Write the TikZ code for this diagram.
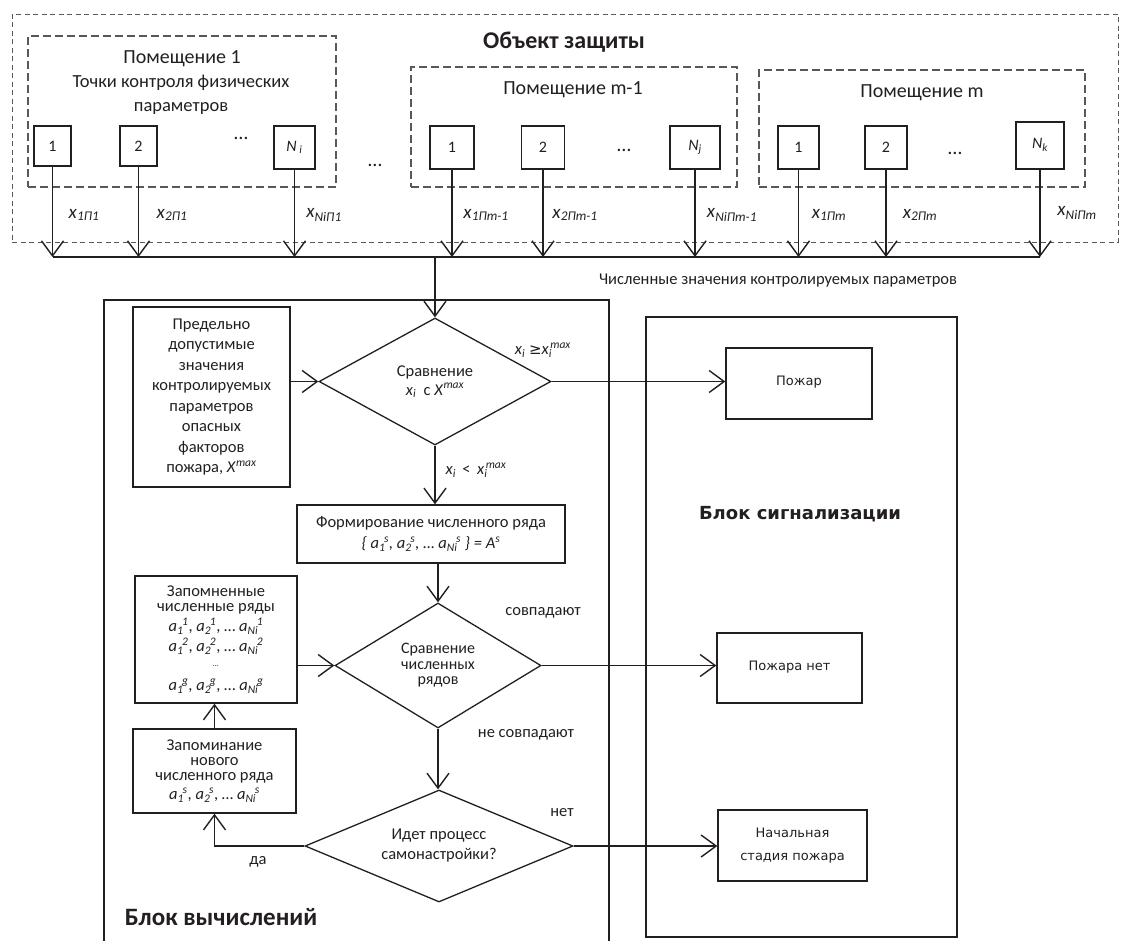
\documentclass[tikz,border=0pt]{standalone}
\usepackage{fontspec}
\setmainfont{Carlito}
\newfontfamily\dvs{DejaVu Sans}
\usetikzlibrary{arrows.meta,shapes.geometric,calc}
\newcommand\fs[2]{\fontsize{#1}{#2}\selectfont}
\newcommand\xlab[1]{\textit{x}\textsubscript{\textit{#1}}}
\newcommand\aij[3]{\textit{#1}\textsubscript{\textit{#2}}\kern-0.08em\textsuperscript{\textit{#3}}}
\definecolor{ink}{HTML}{231F20}
\tikzset{
  ln/.style={draw=ink, line width=1.4pt},
  arr/.style={ln, -{Straight Barb[length=15pt,width=22pt,line width=1.4pt]}},
  frame/.style={draw=ink, line width=1.7pt},
  box/.style={draw=ink, line width=1.4pt, rectangle, inner sep=0pt, align=center, text=ink},
  sensor/.style={draw=ink, line width=1.9pt, rectangle, inner sep=0pt, text=ink, font=\fs{16}{19}},
  room/.style={draw=ink!75, line width=1.2pt, dash pattern=on 8pt off 4pt, rectangle, inner sep=0pt},
  outerbox/.style={draw=ink!75, line width=1pt, dash pattern=on 5pt off 3.5pt, rectangle, inner sep=0pt},
  dia/.style={draw=ink, line width=1.3pt, diamond, aspect=2, inner sep=0pt, align=center, text=ink},
  lbl/.style={inner sep=0pt, text=ink, font=\fs{16.5}{20}},
  xl/.style={inner sep=0pt, text=ink, font=\fs{19}{22}},
  rtext/.style={inner sep=0pt, text=ink, font=\fs{20}{24}},
  dots/.style={inner sep=0pt, text=ink, font=\fs{20}{24}},
  sigbox/.style={box, font=\dvs\fs{13}{23}},
}
\begin{document}
\begin{tikzpicture}[x=1pt,y=-1pt]
\useasboundingbox (0,0) rectangle (1121,940);

% ---------- Object of protection ----------
\node[outerbox, minimum width=1106pt, minimum height=228pt] (obj) at (565,128) {};
\node[inner sep=0pt, text=ink, font=\bfseries\fs{24}{28}] (objt) at (564,42) {Объект защиты};

\node[room, minimum width=308pt, minimum height=151pt] (room1) at (182,111.5) {};
\node[room, minimum width=326pt, minimum height=120pt] (roomA) at (574,127) {};
\node[room, minimum width=326pt, minimum height=117pt] (roomB) at (922,128.5) {};

\node[rtext] (r1t) at (182,59) {Помещение 1};
\node[inner sep=0pt, text=ink, font=\fs{18.5}{24}, align=center] (r1s) at (181,95) {Точки контроля физических\\параметров};
\node[rtext] (rAt) at (573,90) {Помещение m-1};
\node[rtext] (rBt) at (922,93) {Помещение m};

% sensors
\node[sensor, minimum width=37pt, minimum height=40pt] (s11) at (52.5,146) {1};
\node[sensor, minimum width=37pt, minimum height=40pt] (s12) at (138.5,146) {2};
\node[sensor, minimum width=41pt, minimum height=43pt] (s1N) at (294.5,147.5) {\textit{N}\,\textsubscript{\textit{i}}};
\node[sensor, minimum width=44pt, minimum height=43pt] (sA1) at (452,147.5) {1};
\node[sensor, minimum width=43pt, minimum height=43pt] (sA2) at (543,147.5) {2};
\node[sensor, minimum width=50pt, minimum height=43pt] (sAN) at (695,147.5) {\textit{N}\textsubscript{\textit{j}}};
\node[sensor, minimum width=41pt, minimum height=43pt] (sB1) at (798.5,147.5) {1};
\node[sensor, minimum width=42pt, minimum height=43pt] (sB2) at (886,147.5) {2};
\node[sensor, minimum width=48pt, minimum height=47pt] (sBN) at (1040,145.5) {\raisebox{4pt}{\textit{N}\textsubscript{\textit{k}}}};

\node[dots] (e1) at (241,138) {…};
\node[dots] (e2) at (375,165) {…};
\node[dots] (e3) at (624,150) {…};
\node[dots] (e4) at (955,153) {…};

% signal labels
\node[xl] (l11) at (84,215) {\xlab{1П1}};
\node[xl] (l12) at (172,215) {\xlab{2П1}};
\node[xl] (l1N) at (324,215) {\xlab{NiП1}};
\node[xl] (lA1) at (486,215) {\xlab{1Пm-1}};
\node[xl] (lA2) at (575,215) {\xlab{2Пm-1}};
\node[xl] (lAN) at (732,215) {\xlab{NiПm-1}};
\node[xl] (lB1) at (829,215) {\xlab{1Пm}};
\node[xl] (lB2) at (920,215) {\xlab{2Пm}};
\node[xl] (lBN) at (1077,213) {\xlab{NiПm}};

% bus
\coordinate (busL) at (52.5,257);
\coordinate (busR) at (1040,257);
\draw[ln] (busL) -- (busR);
\foreach \s in {s11,s12,s1N,sA1,sA2,sAN,sB1,sB2,sBN}
  \draw[arr] (\s.south) -- (\s.south |- busL);
\node[lbl] (busT) at (778,281) {Численные значения контролируемых параметров};

% ---------- Computation block ----------
\coordinate (bvA) at (104,942);
\coordinate (bvB) at (104,300);
\coordinate (bvC) at (609,300);
\coordinate (bvD) at (609,942);
\draw[frame] (bvA) -- (bvB) -- (bvC) -- (bvD);
\node[inner sep=0pt, text=ink, font=\bfseries\fs{25}{30}] (bvt) at (221,917) {Блок вычислений};

\node[box, minimum width=157pt, minimum height=180pt, font=\fs{16.5}{20.5}] (pred) at (211.5,397)
  {Предельно\\допустимые\\значения\\контролируемых\\параметров\\опасных\\факторов\\пожара, \textit{X}\textsuperscript{\textit{max}}};

\node[dia, minimum width=232pt, minimum height=127pt, font=\fs{16.5}{19}] (d1) at (435,381.5)
  {Сравнение\\\textit{x}\textsubscript{\textit{i}}\ \ с \textit{X}\textsuperscript{\textit{max}}};

\node[box, minimum width=268pt, minimum height=58pt, font=\fs{16.5}{21}] (form) at (431,534)
  {Формирование численного ряда\\{\itshape \{ \aij{a}{1}{s}, \aij{a}{2}{s}, … \aij{a}{Ni}{s} \} = \textit{A}\textsuperscript{\textit{s}}}};

\node[box, minimum width=162pt, minimum height=127pt, font=\fs{16.5}{15}] (zpm) at (216,639.5)
  {Запомненные\\численные ряды\\[3pt]
   \aij{a}{1}{1}, \aij{a}{2}{1}, … \aij{a}{Ni}{1}\\[3pt]
   \aij{a}{1}{2}, \aij{a}{2}{2}, … \aij{a}{Ni}{2}\\
   {\fs{8}{9}…}\\[9pt]
   \aij{a}{1}{g}, \aij{a}{2}{g}, … \aij{a}{Ni}{g}};

\node[dia, minimum width=206pt, minimum height=125pt, font=\fs{16}{15.5}] (d2) at (438,665.5)
  {Сравнение\\численных\\рядов};

\node[box, minimum width=163pt, minimum height=84pt, font=\fs{16.5}{15}] (zap) at (214.5,771)
  {Запоминание\\нового\\численного ряда\\[4pt]\aij{a}{1}{s}, \aij{a}{2}{s}, … \aij{a}{Ni}{s}};

\node[dia, minimum width=268pt, minimum height=112pt, font=\fs{16.5}{20}] (d3) at (439,846)
  {Идет процесс\\самонастройки?};

% edge labels
\node[lbl] (lge) at (543,350) {\textit{x}\textsubscript{\textit{i}} {\dvs\fs{15}{18}≥}\textit{x}\textsubscript{\textit{i}}\kern-.1em\textsuperscript{\textit{max}}};
\node[lbl] (llt) at (476,470) {\textit{x}\textsubscript{\textit{i}} \,<\, \textit{x}\textsubscript{\textit{i}}\kern-.1em\textsuperscript{\textit{max}}};
\node[lbl] (lsov) at (543,613) {совпадают};
\node[lbl] (lnsov) at (526,735) {не совпадают};
\node[lbl] (lnet) at (562,813) {нет};
\node[lbl] (lda) at (258,862) {да};

% ---------- Signalling block ----------
\node[frame, rectangle, inner sep=0pt, minimum width=311pt, minimum height=620pt] (sigf) at (801.5,627) {};
\node[inner sep=0pt, text=ink, font=\dvs\bfseries\fs{18}{22}] (sigt) at (800,514) {Блок сигнализации};
\node[sigbox, minimum width=146pt, minimum height=71pt] (fire) at (799,383.5) {\raisebox{5pt}{Пожар}};
\node[sigbox, minimum width=145pt, minimum height=70pt] (nofire) at (789.5,668) {\raisebox{5pt}{Пожара нет}};
\node[sigbox, minimum width=149pt, minimum height=71pt] (early) at (792.5,845.5) {Начальная\\стадия пожара};

% ---------- connectors ----------
\draw[arr] (d1.north |- busL) -- (d1.north);
\draw[arr] (pred.east |- d1.west) -- (d1.west);
\draw[arr] (d1.east) -- (d1.east -| fire.west);
\draw[arr] (d1.south) -- (d1.south |- form.north);
\draw[arr] (d2.north |- form.south) -- (d2.north);
\draw[arr] (zpm.east |- d2.west) -- (d2.west);
\draw[arr] (d2.east) -- (d2.east -| nofire.west);
\draw[arr] (d2.south) -- (d2.south |- d3.north);
\draw[arr] (d3.east) -- (d3.east -| early.west);
\draw[arr] (d3.west) -| (zap.south);
\draw[arr] (zap.north) -- (zap.north |- zpm.south);
\end{tikzpicture}
\end{document}
